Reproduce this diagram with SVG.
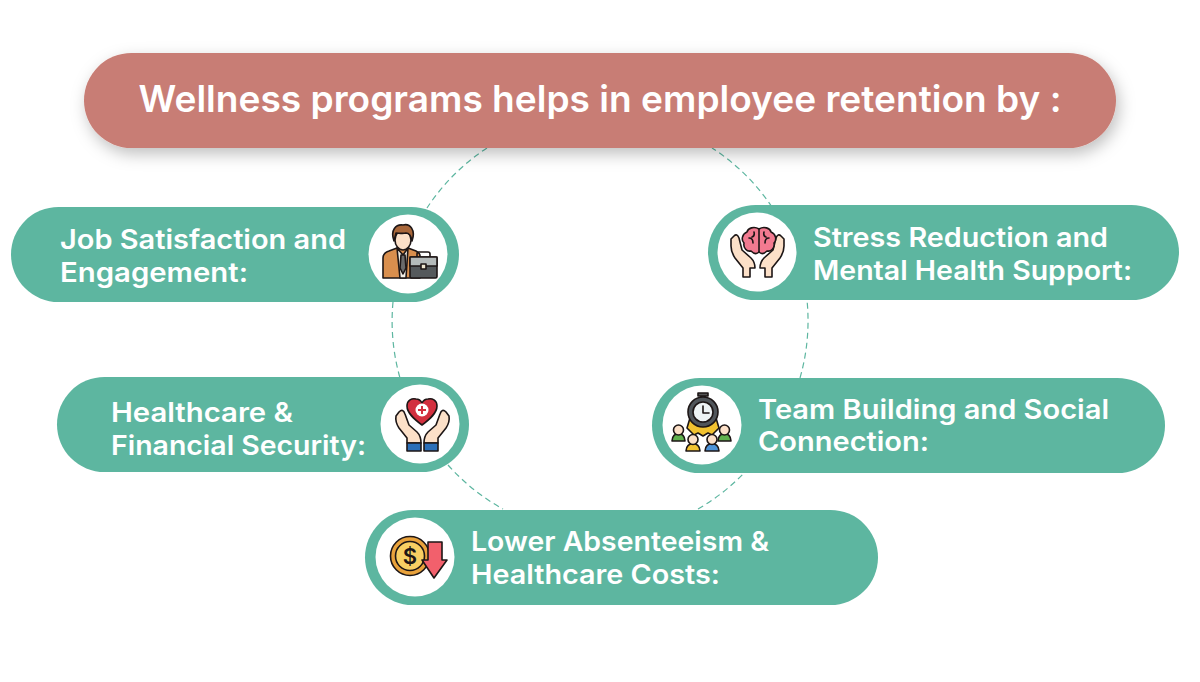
<svg xmlns="http://www.w3.org/2000/svg" width="1200" height="682" viewBox="0 0 1200 682">
<defs>
<style>
text{font-family:"Inter","Open Sans","Liberation Sans",sans-serif;font-weight:600;fill:#fff}
.lbl{font-size:27px}
.pill{fill:#5db6a0}
.disc{fill:#fff}
.o{stroke:#1d1616;stroke-width:1.6;stroke-linejoin:round;stroke-linecap:round}
.l{fill:none;stroke:#1d1616;stroke-width:1.6;stroke-linejoin:round;stroke-linecap:round}
.skin{fill:#fce0c8}
</style>
<filter id="sh" x="-5%" y="-30%" width="110%" height="170%"><feDropShadow dx="3" dy="6" stdDeviation="8" flood-color="#000" flood-opacity=".25"/></filter>
<path id="hand-a" class="o skin" d="M734 236 Q737 233 739 238 L742 250 L751 258 Q755 262 755 268 L750 268 V277 H743 V268 L735 258 Q731 252 731 246 V239 Z"/>
<path id="hand-b" class="o skin" d="M399 412 Q403 408 405 414 L409 425 L417 432 Q421 436 421 443 H407 V438 L399 428 Q395 422 396 416 Z"/>
</defs>
<g id="connectors">
<path d="M487 148 A208 208 0 0 0 427 208 M393 302 A208 208 0 0 0 400 378 M448 465 A208 208 0 0 0 503 509 M698 509 A208 208 0 0 0 745 472 M800 378 A208 208 0 0 0 807 300 M772 207 A208 208 0 0 0 712 148" fill="none" stroke="#5db6a0" stroke-width="1.2" stroke-dasharray="6 4"/>
</g>
<g id="title">
<rect x="84" y="53" width="1032" height="95" rx="47.500" fill="#c87d74" filter="url(#sh)"/>
<text x="600" y="112" text-anchor="middle" font-size="36.500" textLength="923" lengthAdjust="spacingAndGlyphs">Wellness programs helps in employee retention by :</text>
</g>
<g id="node-job">
<rect class="pill" x="11" y="207" width="448" height="95" rx="47.500"/>
<text class="lbl" x="60" y="249" textLength="286" lengthAdjust="spacingAndGlyphs">Job Satisfaction and</text>
<text class="lbl" x="60" y="282" textLength="188" lengthAdjust="spacingAndGlyphs">Engagement:</text>
<circle class="disc" cx="408" cy="254" r="39.500"/>
<path class="o" fill="#d98f4e" d="M383 278 V258 Q383 253 389 251 L397 248 H408 L416 251 Q420 253 420 256 V278 Z"/>
<path class="o" fill="#f3efe6" d="M397 248 L403 255 L408 248 L406 278 H400 Z"/>
<path class="o" fill="#6a6a6a" d="M401 255 H405 L406 268 L403 274 L400 268 Z"/>
<ellipse class="o skin" cx="403" cy="240" rx="8" ry="10"/>
<path class="o" fill="#a8673a" d="M394 241 C390 230 396 224 403 225 C410 223 416 230 412 241 C411 235 409 233 406 233 C402 234 399 233 396 233 Z"/>
<path class="l" d="M417 257 V254 Q417 252 419 252 H428 Q430 252 430 254 V257"/>
<rect class="o" x="410" y="257" width="27" height="21" rx="1.500" fill="#55595c"/>
<path class="o" fill="#b4baba" d="M410 257 H437 V266 H410 Z"/>
<rect class="o" x="421" y="264" width="5" height="5" fill="#efe6d0"/>
</g>
<g id="node-stress">
<rect class="pill" x="708" y="205" width="471" height="95" rx="47.500"/>
<text class="lbl" x="813" y="247" textLength="295" lengthAdjust="spacingAndGlyphs">Stress Reduction and</text>
<text class="lbl" x="813" y="280" textLength="319" lengthAdjust="spacingAndGlyphs">Mental Health Support:</text>
<circle class="disc" cx="757" cy="252" r="39.500"/>
<use href="#hand-a"/>
<use href="#hand-a" transform="matrix(-1 0 0 1 1515 0)"/>
<g transform="translate(2 0)">
<path class="o" fill="#f27a90" d="M757 229 C752 226 746 228 745 232 C740 234 739 240 742 243 C741 248 745 252 749 251 C752 254 755 254 757 252 C759 254 762 254 765 251 C769 252 773 248 772 243 C775 240 774 234 769 232 C768 228 762 226 757 229 Z"/>
<path class="l" d="M757 229 V252 M747 238 Q751 238 751 243 M767 238 Q763 238 763 243 M752 232 Q753 236 750 237 M762 232 Q761 236 764 237"/>
</g>
</g>
<g id="node-health">
<rect class="pill" x="57" y="377" width="412" height="95" rx="47.500"/>
<text class="lbl" x="111" y="422" textLength="182" lengthAdjust="spacingAndGlyphs">Healthcare &amp;</text>
<text class="lbl" x="111" y="455" textLength="255" lengthAdjust="spacingAndGlyphs">Financial Security:</text>
<circle class="disc" cx="420" cy="424" r="39.500"/>
<path class="o" fill="#d2303f" d="M422 425 C414 419 407 413 407 406 C407 400 412 398 416 399 C419 399 421 401 422 403 C423 401 425 399 428 399 C432 398 437 400 437 406 C437 413 430 419 422 425 Z"/>
<circle cx="422" cy="410" r="6.500" fill="#fff"/>
<path d="M422 406 V414 M418 410 H426" stroke="#d2303f" stroke-width="2"/>
<use href="#hand-b"/>
<use href="#hand-b" transform="matrix(-1 0 0 1 845 0)"/>
<rect class="o" x="407" y="443" width="14" height="8" fill="#2c6fb8"/>
<rect class="o" x="424" y="443" width="14" height="8" fill="#2c6fb8"/>
</g>
<g id="node-team">
<rect class="pill" x="652" y="378" width="513" height="95" rx="47.500"/>
<text class="lbl" x="758" y="419" textLength="351" lengthAdjust="spacingAndGlyphs">Team Building and Social</text>
<text class="lbl" x="758" y="451" textLength="171" lengthAdjust="spacingAndGlyphs">Connection:</text>
<circle class="disc" cx="702" cy="425" r="39.500"/>
<path class="o" fill="#f2c230" d="M690 418 H716 L719 428 L712 435 L708 433 L703 436 L698 433 L694 435 L687 428 Z"/>
<rect class="o" x="701" y="394" width="4" height="5" fill="#555"/>
<rect class="o" x="698" y="393" width="10" height="3" fill="#555"/>
<circle class="o" cx="703" cy="412" r="15" fill="#50555a"/>
<circle class="o" cx="703" cy="412" r="10" fill="#eef3f5"/>
<path class="l" d="M703 406 V413 H709"/>
<path class="o" fill="#5fb04d" d="M672 441 C672 431 685 431 685 441 Z"/>
<circle class="o skin" cx="678.500" cy="430" r="5"/>
<path class="o" fill="#5fb04d" d="M718 441 C718 431 731 431 731 441 Z"/>
<circle class="o skin" cx="724.500" cy="430" r="5"/>
<path class="o" fill="#f2c230" d="M686 451 C686 441 700 441 700 451 Z"/>
<circle class="o skin" cx="693" cy="439.500" r="5"/>
<path class="o" fill="#4e93d8" d="M705 451 C705 441 719 441 719 451 Z"/>
<circle class="o skin" cx="712" cy="439.500" r="5"/>
</g>
<g id="node-lower">
<rect class="pill" x="365" y="510" width="513" height="95" rx="47.500"/>
<text class="lbl" x="471" y="551" textLength="298" lengthAdjust="spacingAndGlyphs">Lower Absenteeism &amp;</text>
<text class="lbl" x="471" y="584" textLength="249" lengthAdjust="spacingAndGlyphs">Healthcare Costs:</text>
<circle class="disc" cx="415" cy="557" r="39.500"/>
<circle class="o" cx="410" cy="556" r="19.500" fill="#e9a23b"/>
<circle class="o" cx="410" cy="556" r="14.500" fill="#f8cf63"/>
<text x="410" y="564" text-anchor="middle" font-size="22" style="fill:#1d1616">$</text>
<path class="o" fill="#f2606c" d="M428 542 H442 V560 H447 L434 578 L422 560 H428 Z"/>
</g>
</svg>
